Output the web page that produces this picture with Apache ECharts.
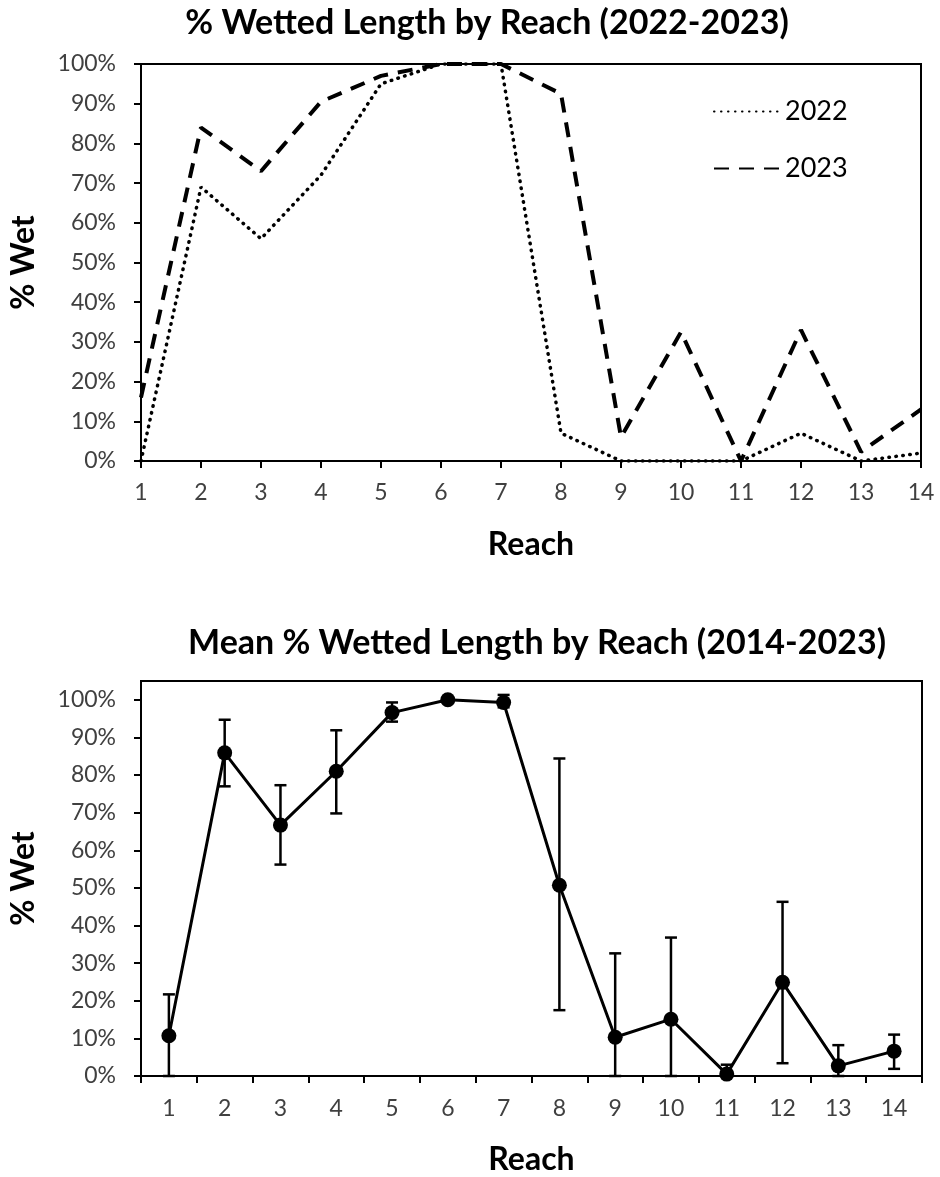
<!DOCTYPE html>
<html>
<head>
<meta charset="utf-8">
<script src="https://cdn.jsdelivr.net/npm/echarts@6/dist/echarts.min.js"></script>
<style>
  html, body { margin: 0; padding: 0; background: #fff; }
  #chart-panel { width: 940px; height: 1177px; }
</style>
</head>
<body>
<div id="chart-panel"></div>
<script>
// reach numbers (x axis)
const reaches = ['1', '2', '3', '4', '5', '6', '7', '8', '9', '10', '11', '12', '13', '14']

// top chart: % wetted length per year
const wet2022 = [0, 69, 56, 72, 95, 100, 100, 7, 0, 0, 0, 7, 0, 2]
const wet2023 = [16, 84, 73, 90.5, 97, 100, 100, 92.5, 6, 32.5, 0, 33, 2.3, 13]

// bottom chart: mean 2014-2023 with error bar ends
const meanWet = [10.7, 85.9, 66.7, 81, 96.6, 100, 99.3, 50.7, 10.3, 15.1, 0.5, 24.9, 2.7, 6.6]
const errHigh = [21.7, 94.7, 77.3, 91.9, 99.3, 100, 101.3, 84.4, 32.6, 36.8, 3, 46.3, 8.2, 11]
const errLow = [0, 77, 56.2, 69.8, 94.2, 100, 98, 17.5, 0, 0, 0, 3.4, 0, 1.9]

const font = 'Lato'
const labelColor = '#404040'

function axisCommon () {
  return {
    axisLine: { lineStyle: { color: '#000', width: 2 } },
    axisTick: { show: true, inside: false, length: 7, lineStyle: { color: '#000', width: 2 } },
    splitLine: { show: false },
    nameTextStyle: { fontFamily: font, fontWeight: 'bold', fontSize: 32, color: '#000' }
  }
}

const chart = echarts.init(document.getElementById('chart-panel'))

const option = {
  backgroundColor: '#fff',
  animation: false,
  title: [
    {
      text: '% Wetted Length by Reach (2022-2023)',
      left: 482,
      top: 1,
      textAlign: 'center',
      textStyle: { fontFamily: font, fontWeight: 'bold', fontSize: 34, color: '#000' }
    },
    {
      text: 'Mean % Wetted Length by Reach (2014-2023)',
      left: 532,
      top: 621,
      textAlign: 'center',
      textStyle: { fontFamily: font, fontWeight: 'bold', fontSize: 34, color: '#000' }
    }
  ],
  legend: {
    orient: 'vertical',
    left: 708,
    top: 93,
    itemWidth: 66,
    itemHeight: 28,
    itemGap: 30,
    data: ['2022', '2023'],
    itemStyle: { opacity: 0 },
    textStyle: { fontFamily: font, fontSize: 27, color: '#000' }
  },
  grid: [
    { left: 141, right: 19, top: 64, bottom: 716, show: true, borderColor: '#000', borderWidth: 2 },
    { left: 141, right: 18, top: 681, bottom: 100, show: true, borderColor: '#000', borderWidth: 2 }
  ],
  xAxis: [
    Object.assign(axisCommon(), {
      type: 'category',
      gridIndex: 0,
      data: reaches,
      boundaryGap: false,
      name: 'Reach',
      nameLocation: 'middle',
      nameGap: 68,
      axisLabel: { fontFamily: font, fontSize: 23, color: labelColor, margin: 20, interval: 0 }
    }),
    Object.assign(axisCommon(), {
      type: 'category',
      gridIndex: 1,
      data: reaches,
      boundaryGap: true,
      name: 'Reach',
      nameLocation: 'middle',
      nameGap: 68,
      axisLabel: { fontFamily: font, fontSize: 23, color: labelColor, margin: 21, interval: 0 }
    })
  ],
  yAxis: [
    Object.assign(axisCommon(), {
      type: 'value',
      gridIndex: 0,
      min: 0,
      max: 100,
      interval: 10,
      name: '% Wet',
      nameLocation: 'middle',
      nameGap: 101,
      axisLabel: { fontFamily: font, fontSize: 23, color: labelColor, margin: 25, formatter: '{value}%' }
    }),
    Object.assign(axisCommon(), {
      type: 'value',
      gridIndex: 1,
      min: 0,
      max: 105,
      interval: 10,
      name: '% Wet',
      nameLocation: 'middle',
      nameGap: 101,
      axisLabel: { fontFamily: font, fontSize: 23, color: labelColor, margin: 25, formatter: '{value}%', showMaxLabel: false }
    })
  ],
  series: [
    {
      name: '2022',
      type: 'line',
      xAxisIndex: 0,
      yAxisIndex: 0,
      data: wet2022,
      symbol: 'none',
      itemStyle: { color: '#000' },
      lineStyle: { color: '#000', width: 3.5, type: [0.5, 6.5], cap: 'round' }
    },
    {
      name: '2023',
      type: 'line',
      xAxisIndex: 0,
      yAxisIndex: 0,
      data: wet2023,
      symbol: 'none',
      itemStyle: { color: '#000' },
      lineStyle: { color: '#000', width: 4, type: [15, 10] }
    },
    {
      name: 'Mean',
      type: 'line',
      xAxisIndex: 1,
      yAxisIndex: 1,
      data: meanWet,
      symbol: 'circle',
      symbolSize: 15,
      itemStyle: { color: '#000' },
      lineStyle: { color: '#000', width: 3 }
    },
    {
      name: 'range',
      type: 'custom',
      xAxisIndex: 1,
      yAxisIndex: 1,
      data: reaches.map((r, i) => [i, errLow[i], errHigh[i]]),
      renderItem: function (params, api) {
        const lo = api.coord([api.value(0), api.value(1)])
        const hi = api.coord([api.value(0), api.value(2)])
        const half = 6
        const style = { stroke: '#000', lineWidth: 2.5 }
        return {
          type: 'group',
          children: [
            { type: 'line', shape: { x1: lo[0], y1: lo[1], x2: hi[0], y2: hi[1] }, style: style },
            { type: 'line', shape: { x1: hi[0] - half, y1: hi[1], x2: hi[0] + half, y2: hi[1] }, style: style },
            { type: 'line', shape: { x1: lo[0] - half, y1: lo[1], x2: lo[0] + half, y2: lo[1] }, style: style }
          ]
        }
      },
      z: 3
    }
  ]
}

chart.setOption(option)
</script>
</body>
</html>
